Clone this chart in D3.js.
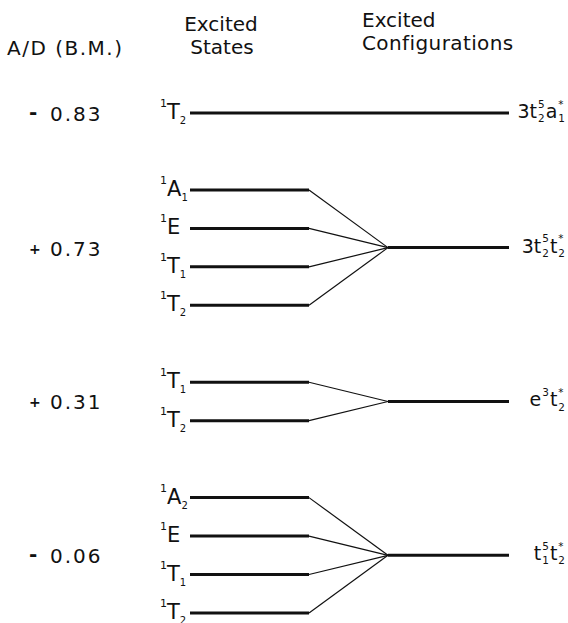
<!DOCTYPE html>
<html>
<head>
<meta charset="utf-8">
<script src="https://cdn.jsdelivr.net/npm/d3@7"></script>
<style>
  body { margin: 0; background: #fff; }
  svg text { font-family: "DejaVu Sans", sans-serif; fill: #111; }
</style>
</head>
<body>
<div id="chart"></div>
<script>
// A/D values for each excited configuration
const adValues = ["- 0.83", "+ 0.73", "+ 0.31", "- 0.06"];

// excited configurations, pieces: main letter with optional sub / sup stacked
const configurations = [
    [{ main: "3" }, { main: "t", sub: "2", sup: "5" }, { main: "a", sub: "1", sup: "*" }],
    [{ main: "3" }, { main: "t", sub: "2", sup: "5" }, { main: "t", sub: "2", sup: "*" }],
    [{ main: "e", sup: "3" }, { main: "t", sub: "2", sup: "*" }],
    [{ main: "t", sub: "1", sup: "5" }, { main: "t", sub: "2", sup: "*" }]
];

// excited states (singlet terms) per configuration
const stateTerms = [
    [{ main: "T", sub: "2" }],
    [{ main: "A", sub: "1" }, { main: "E" }, { main: "T", sub: "1" }, { main: "T", sub: "2" }],
    [{ main: "T", sub: "1" }, { main: "T", sub: "2" }],
    [{ main: "A", sub: "2" }, { main: "E" }, { main: "T", sub: "1" }, { main: "T", sub: "2" }]
];

// level slots, counted downwards
const stateLevels = [[0], [2, 3, 4, 5], [7, 8], [10, 11, 12, 13]];
const configLevels = [0, 3.5, 7.5, 11.5];

const W = 568, H = 623;
const svg = d3.select("#chart").append("svg")
    .attr("width", W).attr("height", H);

const y = d3.scaleLinear().domain([0, 13]).range([113, 613]);

// column x positions
const xStateStart = 190, xStateEnd = 309, xJoin = 388, xConfigEnd = 509, xLabelRight = 566;

// headers
svg.append("text").attr("x", 7).attr("y", 55).attr("font-size", 20).attr("letter-spacing", 1.5).text("A/D (B.M.)");
svg.append("text").attr("x", 221).attr("y", 31).attr("font-size", 20).attr("text-anchor", "middle").text("Excited");
svg.append("text").attr("x", 222).attr("y", 54).attr("font-size", 20).attr("text-anchor", "middle").text("States");
svg.append("text").attr("x", 362).attr("y", 27).attr("font-size", 20).text("Excited");
svg.append("text").attr("x", 362).attr("y", 50).attr("font-size", 20).attr("letter-spacing", 0.4).text("Configurations");

// configuration label: stacked sub / sup after each main letter
function drawConfig(g, yy, pieces, size) {
    const lg = g.append("g");
    let cx = 0;
    pieces.forEach(p => {
        const m = lg.append("text").attr("x", cx).attr("y", yy).attr("font-size", size).text(p.main);
        cx += m.node().getComputedTextLength();
        let w = 0;
        if (p.sup) {
            const s = lg.append("text").attr("x", cx + 1).attr("y", yy - size * 0.55)
                .attr("font-size", size * 0.55).text(p.sup);
            w = Math.max(w, s.node().getComputedTextLength() + 2);
        }
        if (p.sub) {
            const s = lg.append("text").attr("x", cx + 1).attr("y", yy + size * 0.22)
                .attr("font-size", size * 0.55).text(p.sub);
            w = Math.max(w, s.node().getComputedTextLength() + 2);
        }
        cx += w;
    });
    lg.attr("transform", `translate(${xLabelRight - cx},0)`);
}

// state label: leading superscript 1, term letter, subscript
function drawState(g, ys, term) {
    g.append("text").attr("x", 160).attr("y", ys - 6).attr("font-size", 11).text("1");
    const m = g.append("text").attr("x", 167).attr("y", ys + 6).attr("font-size", 21).text(term.main);
    if (term.sub) {
        const x0 = 167 + m.node().getComputedTextLength();
        g.append("text").attr("x", x0).attr("y", ys + 11).attr("font-size", 10).text(term.sub);
    }
}

const groups = svg.selectAll("g.config")
    .data(adValues)
    .enter().append("g")
    .attr("class", "config");

groups.each(function(val, i) {
    const g = d3.select(this);
    const yc = y(configLevels[i]);
    const [sign, num] = val.split(" ");

    g.append("text").attr("x", 29).attr("y", yc + 6)
        .attr("font-size", sign === "-" ? 20 : 14).attr("font-weight", "bold").text(sign);
    g.append("text").attr("x", 50).attr("y", yc + 8)
        .attr("font-size", 20).attr("letter-spacing", 2).text(num);

    const single = stateLevels[i].length === 1;

    stateLevels[i].forEach((lv, j) => {
        const ys = y(lv);
        drawState(g, ys, stateTerms[i][j]);
        g.append("line")
            .attr("x1", xStateStart).attr("x2", single ? xConfigEnd : xStateEnd)
            .attr("y1", ys).attr("y2", ys)
            .attr("stroke", "#111").attr("stroke-width", 3);
        if (!single) {
            g.append("line")
                .attr("x1", xStateEnd).attr("x2", xJoin)
                .attr("y1", ys).attr("y2", yc)
                .attr("stroke", "#111").attr("stroke-width", 1.2);
        }
    });

    if (!single) {
        g.append("line")
            .attr("x1", xJoin).attr("x2", xConfigEnd)
            .attr("y1", yc).attr("y2", yc)
            .attr("stroke", "#111").attr("stroke-width", 3);
    }

    drawConfig(g, yc + 5, configurations[i], 19);
});
</script>
</body>
</html>
